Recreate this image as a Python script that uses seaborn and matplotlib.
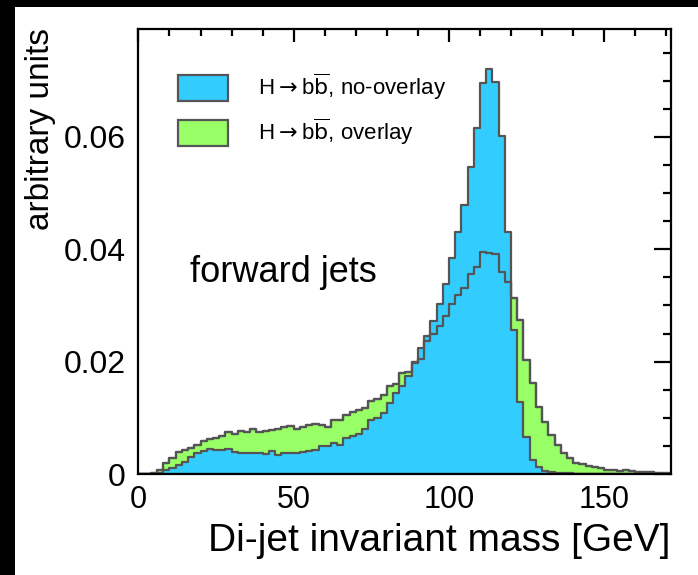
import numpy as np
import pandas as pd
import matplotlib
matplotlib.use("Agg")
import matplotlib.pyplot as plt
from matplotlib.patches import Patch, Rectangle
from matplotlib.ticker import MultipleLocator, FixedLocator, FixedFormatter
import seaborn as sns

# 2 GeV bins from 0 to 172 GeV
bin_edges = list(range(0, 174, 2))
bin_centers = [e + 1.0 for e in bin_edges[:-1]]

# Normalised di-jet mass, H -> bb, without pile-up overlay
no_overlay = [
    0.0, 0.0, 0.0, 0.0001, 0.0007, 0.0010, 0.0016, 0.0022, 0.0030, 0.0037,
    0.0041, 0.0044, 0.0043, 0.0043, 0.0045, 0.0040, 0.0038, 0.0038, 0.0038, 0.0037,
    0.0036, 0.0041, 0.0034, 0.0038, 0.0037, 0.0038, 0.0040, 0.0041, 0.0043, 0.0049,
    0.0049, 0.0056, 0.0052, 0.0064, 0.0067, 0.0071, 0.0080, 0.0096, 0.0099, 0.0108,
    0.0127, 0.0144, 0.0156, 0.0175, 0.0197, 0.0224, 0.0246, 0.0273, 0.0303, 0.0339,
    0.0384, 0.0430, 0.0478, 0.0546, 0.0615, 0.0696, 0.0721, 0.0698, 0.0602, 0.0431,
    0.0257, 0.0129, 0.0065, 0.0025, 0.0012, 0.0006, 0.0004, 0.0002, 0.0001, 0.0001,
    0.0, 0.0, 0.0, 0.0, 0.0, 0.0, 0.0, 0.0, 0.0, 0.0,
    0.0, 0.0, 0.0, 0.0, 0.0, 0.0,
]

# Normalised di-jet mass, H -> bb, with pile-up overlay
overlay = [
    0.0, 0.0, 0.0001, 0.0007, 0.0019, 0.0029, 0.0039, 0.0042, 0.0047, 0.0052,
    0.0058, 0.0062, 0.0064, 0.0068, 0.0074, 0.0072, 0.0077, 0.0075, 0.0080, 0.0075,
    0.0077, 0.0078, 0.0080, 0.0083, 0.0086, 0.0080, 0.0084, 0.0087, 0.0089, 0.0087,
    0.0083, 0.0096, 0.0096, 0.0105, 0.0111, 0.0114, 0.0117, 0.0130, 0.0133, 0.0141,
    0.0157, 0.0161, 0.0180, 0.0182, 0.0199, 0.0204, 0.0237, 0.0250, 0.0263, 0.0282,
    0.0303, 0.0319, 0.0331, 0.0356, 0.0369, 0.0396, 0.0394, 0.0392, 0.0360, 0.0341,
    0.0313, 0.0274, 0.0203, 0.0162, 0.0120, 0.0093, 0.0069, 0.0052, 0.0037, 0.0028,
    0.0020, 0.0018, 0.0014, 0.0012, 0.0010, 0.0008, 0.0007, 0.0006, 0.0007, 0.0005,
    0.0004, 0.0004, 0.0003, 0.0002, 0.0001, 0.0001,
]

labels = [r"H$\rightarrow$b$\overline{\mathrm{b}}$, no-overlay",
          r"H$\rightarrow$b$\overline{\mathrm{b}}$, overlay"]
x_ticks = [0, 50, 100, 150]
x_tick_labels = ["0", "50", "100", "150"]
y_ticks = [0, 0.02, 0.04, 0.06]
y_tick_labels = ["0", "0.02", "0.04", "0.06"]

hist = pd.DataFrame({"mass": bin_centers, "no_overlay": no_overlay,
                     "overlay": overlay})

BLUE = "#33CCFF"
GREEN = "#99FF66"
EDGE = "#555555"

sns.set_style("white")
plt.rcParams["font.family"] = ["Liberation Sans", "DejaVu Sans"]
plt.rcParams["mathtext.fontset"] = "dejavusans"
for key in ("text.color", "axes.labelcolor", "xtick.color", "ytick.color"):
    plt.rcParams[key] = "black"

W, H = 698, 575
fig = plt.figure(figsize=(W / 100, H / 100), dpi=100)
fig.patch.set_facecolor("black")
fig.add_artist(Rectangle((15 / W, 0), 1 - 15 / W, 1 - 7 / H,
                         transform=fig.transFigure, facecolor="white",
                         edgecolor="none", zorder=0))

ax = fig.add_axes([138.4 / W, 1 - 474 / H, (671 - 138.4) / W, (474 - 29) / H])
ax.set_facecolor("white")

lw = 1.6
sns.histplot(data=hist, x="mass", weights="overlay", bins=bin_edges,
             element="step", fill=True, color=GREEN, edgecolor=EDGE,
             linewidth=lw, alpha=1, ax=ax, zorder=2)
sns.histplot(data=hist, x="mass", weights="no_overlay", bins=bin_edges,
             element="step", fill=True, color=BLUE, edgecolor=EDGE,
             linewidth=lw, alpha=1, ax=ax, zorder=3)
sns.histplot(data=hist, x="mass", weights="overlay", bins=bin_edges,
             element="step", fill=False, color=EDGE, linewidth=lw,
             ax=ax, zorder=4)

ax.set_xlim(0, 171.5)
ax.set_ylim(0, 0.0792)
ax.set_xlabel("")
ax.set_ylabel("")

ax.xaxis.set_major_locator(FixedLocator(x_ticks))
ax.xaxis.set_major_formatter(FixedFormatter(x_tick_labels))
ax.xaxis.set_minor_locator(MultipleLocator(10))
ax.yaxis.set_major_locator(FixedLocator(y_ticks))
ax.yaxis.set_major_formatter(FixedFormatter(y_tick_labels))
ax.yaxis.set_minor_locator(MultipleLocator(0.005))

for s in ax.spines.values():
    s.set_color("black")
    s.set_linewidth(1.6)
    s.set_zorder(6)

ax.tick_params(which="both", direction="in", top=True, right=True,
               color="black", labelcolor="black", width=1.6, zorder=6)
ax.tick_params(axis="x", which="major", length=9.5, pad=8, labelsize=22)
ax.tick_params(axis="x", which="minor", length=4.8)
ax.tick_params(axis="y", which="major", length=12, pad=9, labelsize=23)
ax.tick_params(axis="y", which="minor", length=6)

handles = [Patch(facecolor=BLUE, edgecolor=EDGE, linewidth=1.6),
           Patch(facecolor=GREEN, edgecolor=EDGE, linewidth=1.6)]
leg = fig.legend(handles, labels, loc="upper left",
                 bbox_to_anchor=(178 / W, 1 - 72 / H),
                 bbox_transform=fig.transFigure, frameon=False, fontsize=16,
                 handlelength=2.25, handleheight=1.42, handletextpad=1.35,
                 labelspacing=0.63, borderpad=0, borderaxespad=0)
for t in leg.get_texts():
    t.set_color("black")

fig.text(190 / W, 1 - 282 / H, "forward jets", fontsize=26,
         ha="left", va="baseline")
fig.text(670 / W, 1 - 551 / H, "Di-jet invariant mass [GeV]", fontsize=28,
         ha="right", va="baseline")
fig.text(41 / W, 1 - 28 / H, "arbitrary units", fontsize=24, rotation=90,
         ha="center", va="top")

fig.savefig("out.png", dpi=100, facecolor=fig.get_facecolor())
